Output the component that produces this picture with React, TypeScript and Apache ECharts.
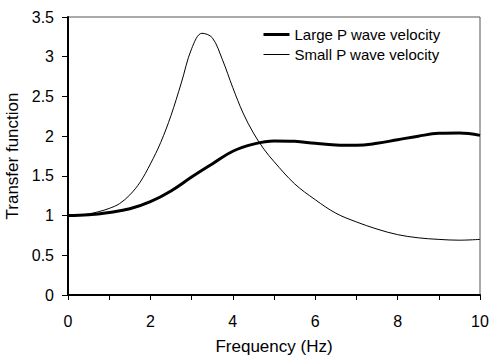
import React, { useEffect, useRef } from "react";
import * as echarts from "echarts";

const largeFreq = [0, 0.5, 1.0, 1.5, 2.0, 2.5, 3.0, 3.5, 4.0, 4.5, 5.0, 5.5, 6.0, 6.5, 7.0, 7.5, 8.0, 8.5, 9.0, 9.5, 10.0];
const largeVals = [1.0, 1.01, 1.04, 1.085, 1.175, 1.31, 1.485, 1.65, 1.81, 1.9, 1.94, 1.935, 1.91, 1.89, 1.885, 1.91, 1.955, 2.0, 2.035, 2.04, 2.01];

const smallFreq = [0, 0.25, 0.5, 0.75, 1.0, 1.25, 1.5, 1.75, 2.0, 2.25, 2.5, 2.75, 3.0, 3.25, 3.5, 3.75, 4.0, 4.25, 4.5, 4.75, 5.0, 5.5, 6.0, 6.5, 7.0, 7.5, 8.0, 8.5, 9.0, 9.5, 10.0];
const smallVals = [1.0, 1.005, 1.02, 1.05, 1.09, 1.15, 1.26, 1.42, 1.65, 1.92, 2.26, 2.67, 3.1, 3.295, 3.24, 2.96, 2.61, 2.29, 2.04, 1.84, 1.68, 1.4, 1.2, 1.03, 0.92, 0.83, 0.76, 0.72, 0.7, 0.69, 0.7];

const seriesNames = ["Large P wave velocity", "Small P wave velocity"];
const xLabeledTicks = [0, 2, 4, 6, 8, 10];
const xTitle = "Frequency (Hz)";
const yTitle = "Transfer function";

const FONT = "'Liberation Sans', Arial, sans-serif";

export default function App() {
  const ref = useRef<HTMLDivElement>(null);
  useEffect(() => {
    if (!ref.current) return;
    const chart = echarts.init(ref.current, undefined, { renderer: "svg" });
    const pairs = (xs: number[], ys: number[]) => xs.map((x, i) => [x, ys[i]]);
    chart.setOption({
      animation: false,
      backgroundColor: "#ffffff",
      grid: {
        left: 68,
        right: 9,
        top: 17,
        bottom: 61,
        show: true,
        borderColor: "#555555",
        borderWidth: 1,
        containLabel: false,
        outerBoundsMode: "none",
      },
      legend: {
        orient: "vertical",
        left: 262,
        top: 27,
        padding: 0,
        itemWidth: 26,
        itemHeight: 14,
        itemGap: 5,
        textStyle: { fontSize: 15, fontFamily: FONT, color: "#000" },
        data: [
          {
            name: seriesNames[0],
            lineStyle: { color: "#000", width: 3 },
            itemStyle: { opacity: 0, borderWidth: 0 },
          },
          {
            name: seriesNames[1],
            lineStyle: { color: "#000", width: 1 },
            itemStyle: { opacity: 0, borderWidth: 0 },
          },
        ],
      },
      xAxis: {
        type: "value",
        min: 0,
        max: 10,
        interval: 1,
        name: xTitle,
        nameLocation: "middle",
        nameGap: 43,
        nameTextStyle: { fontSize: 17, fontFamily: FONT, color: "#000" },
        axisLine: { lineStyle: { color: "#000", width: 2 } },
        axisTick: { show: true, inside: false, length: 5, lineStyle: { color: "#000", width: 1 } },
        axisLabel: {
          fontSize: 16,
          fontFamily: FONT,
          color: "#000",
          margin: 18,
          formatter: (v: number) => (xLabeledTicks.includes(v) ? String(v) : ""),
        },
        splitLine: { show: false },
      },
      yAxis: {
        type: "value",
        min: 0,
        max: 3.5,
        interval: 0.5,
        name: yTitle,
        nameLocation: "middle",
        nameRotate: 90,
        nameGap: 41,
        nameTextStyle: { fontSize: 17, fontFamily: FONT, color: "#000" },
        axisLine: { show: true, lineStyle: { color: "#000", width: 2 } },
        axisTick: { show: true, inside: false, length: 6, lineStyle: { color: "#000", width: 1 } },
        axisLabel: { fontSize: 16, fontFamily: FONT, color: "#000", margin: 14 },
        splitLine: { show: false },
      },
      series: [
        {
          name: seriesNames[0],
          type: "line",
          data: pairs(largeFreq, largeVals),
          smooth: 0.4,
          symbol: "none",
          lineStyle: { color: "#000", width: 3 },
          itemStyle: { color: "#000" },
        },
        {
          name: seriesNames[1],
          type: "line",
          data: pairs(smallFreq, smallVals),
          smooth: 0.35,
          symbol: "none",
          lineStyle: { color: "#000", width: 1 },
          itemStyle: { color: "#000" },
        },
      ],
    });
    return () => chart.dispose();
  }, []);
  return (
    <div
      ref={ref}
      style={{ position: "fixed", left: 0, top: 0, width: 489, height: 356, background: "#fff" }}
    />
  );
}
